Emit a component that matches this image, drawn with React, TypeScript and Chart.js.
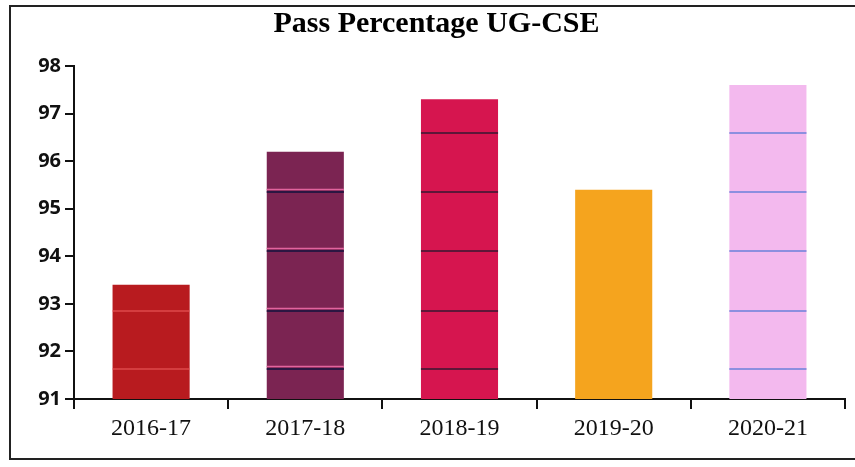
import React, { useEffect, useRef } from "react";
import { Chart, registerables } from "chart.js";

Chart.register(...registerables);

const categories = ["2016-17", "2017-18", "2018-19", "2019-20", "2020-21"];
const passPercent = [93.4, 96.2, 97.3, 95.4, 97.6];
const barColors = ["#b81b1f", "#7b2452", "#d6154f", "#f5a41e", "#f3b9ee"];
const stripeColors = ["rgba(235,90,90,0.55)", "#2b1642", "#5e1638", "", "#8c8fdf"];
const stripeHighlight = ["", "#e2649e", "", "", ""];
const stripeValues = [91.63, 92.85, 94.11, 95.35, 96.59];
const yTicks = [91, 92, 93, 94, 95, 96, 97, 98];

const stripePlugin = {
  id: "stripes",
  afterDatasetsDraw(chart: any) {
    const ctx = chart.ctx;
    const y = chart.scales.y;
    const meta = chart.getDatasetMeta(0);
    meta.data.forEach((bar: any, i: number) => {
      const col = stripeColors[i];
      if (!col) return;
      const half = bar.width / 2;
      stripeValues.forEach((v) => {
        const py = y.getPixelForValue(v);
        if (py <= bar.y + 2) return;
        ctx.save();
        if (stripeHighlight[i]) {
          ctx.strokeStyle = stripeHighlight[i];
          ctx.lineWidth = 1.5;
          ctx.beginPath();
          ctx.moveTo(bar.x - half, py - 2.5);
          ctx.lineTo(bar.x + half, py - 2.5);
          ctx.stroke();
        }
        ctx.strokeStyle = col;
        ctx.lineWidth = 2;
        ctx.beginPath();
        ctx.moveTo(bar.x - half, py);
        ctx.lineTo(bar.x + half, py);
        ctx.stroke();
        ctx.restore();
      });
    });
  },
};

export default function App() {
  const ref = useRef<HTMLCanvasElement>(null);
  useEffect(() => {
    if (!ref.current) return;
    const chart = new Chart(ref.current, {
      type: "bar",
      data: {
        labels: categories,
        datasets: [
          {
            data: passPercent,
            backgroundColor: barColors,
            barPercentage: 0.5,
            categoryPercentage: 1,
          },
        ],
      },
      options: {
        animation: false,
        responsive: false,
        maintainAspectRatio: false,
        layout: { padding: { left: 28, right: 10, top: 0, bottom: 0 } },
        plugins: {
          legend: { display: false },
          tooltip: { enabled: false },
          title: {
            display: true,
            text: "Pass Percentage UG-CSE",
            color: "#000",
            font: { family: "'Liberation Serif', 'Times New Roman', serif", size: 30, weight: "bold" },
            padding: { top: 6, bottom: 24 },
          },
        },
        scales: {
          x: {
            grid: {
              display: true,
              drawOnChartArea: false,
              drawTicks: true,
              tickLength: 10,
              color: "#111",
              lineWidth: 2,
              offset: true,
            },
            border: { display: true, color: "#111", width: 2 },
            ticks: {
              color: "#111",
              padding: 5,
              font: { family: "'Liberation Serif', 'Times New Roman', serif", size: 24 },
            },
            afterFit(scale: any) {
              scale.height = 68;
            },
          },
          y: {
            min: 91,
            max: 98,
            afterBuildTicks(scale: any) {
              scale.ticks = yTicks.map((v) => ({ value: v }));
            },
            grid: {
              display: true,
              drawOnChartArea: false,
              drawTicks: true,
              tickLength: 9,
              color: "#111",
              lineWidth: 2,
            },
            border: { display: true, color: "#111", width: 2 },
            ticks: {
              color: "#111",
              padding: 4,
              font: { family: "'Open Sans', 'Liberation Sans', sans-serif", size: 20, weight: "bold" },
            },
            afterFit(scale: any) {
              scale.width = 46;
            },
          },
        },
      },
      plugins: [stripePlugin],
    });
    return () => chart.destroy();
  }, []);
  return (
    <div>
      <div
        style={{
          position: "fixed",
          left: 9,
          top: 5,
          width: 850,
          height: 455,
          border: "2px solid #222",
          boxSizing: "border-box",
        }}
      />
      <canvas
        ref={ref}
        width={855}
        height={467}
        style={{ position: "fixed", left: 0, top: 0, width: 855, height: 467 }}
      />
    </div>
  );
}
